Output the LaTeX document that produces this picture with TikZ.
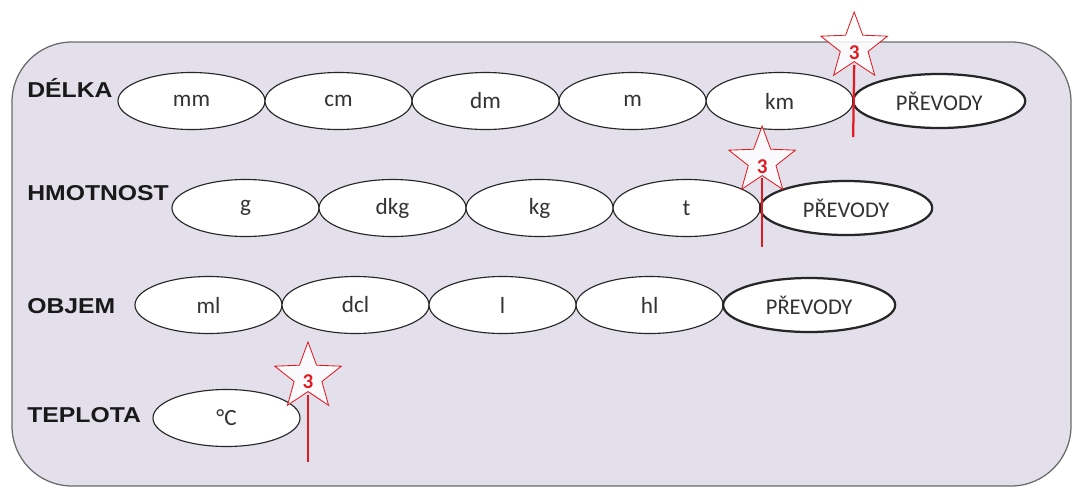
\documentclass[tikz,border=0pt]{standalone}
\usepackage{fontspec}
\usepackage{tikz}
\usetikzlibrary{shapes.geometric,positioning}
\newfontfamily\labelfont[FakeStretch=1.15]{Liberation Sans}
\newfontfamily\unitfont{Carlito}
\definecolor{PanelLilac}{HTML}{E3DFEB}
\definecolor{PanelEdge}{HTML}{6B6B6B}
\definecolor{MarkRed}{HTML}{E11B22}

\tikzset{
  quantity/.style={anchor=west, inner sep=0pt, text=black!90, font=\labelfont\bfseries\fontsize{15.3}{17}\selectfont},
  unitbox/.style={ellipse, draw=black!85, line width=0.8pt, fill=white, inner sep=0pt, outer sep=0pt,
    minimum width=3.675cm, minimum height=1.425cm, text=black!80, font=\unitfont\fontsize{16.5}{18}\selectfont},
  convbox/.style={unitbox, line width=1.6pt, minimum width=4.3cm, minimum height=1.35cm, font=\unitfont\fontsize{16}{18}\selectfont},
  starmark/.style={star, star points=5, star point ratio=2.4, draw=MarkRed, line width=0.6pt,
    fill=white, fill opacity=0.85, minimum size=1.75cm, inner sep=0pt},
  starnum/.style={text=MarkRed, inner sep=0pt, font=\unitfont\bfseries\fontsize{15}{16}\selectfont},
  marker/.style={draw=MarkRed, line width=1.6pt}
}

\begin{document}
\begin{tikzpicture}[x=0.025cm, y=-0.025cm]
  \useasboundingbox (0,0) rectangle (1072,488);
  \draw[PanelEdge, fill=PanelLilac, line width=0.9pt, rounded corners=1.5cm] (12,42) rectangle (1071,486);

  \node[quantity] (delka) at (27,88) {DÉLKA};
  \node[unitbox] (mm) at (191.5,101) {mm};
  \node[unitbox, right=0pt of mm] (cm) {cm};
  \node[unitbox, right=0pt of cm] (dm) {dm};
  \node[unitbox, right=0pt of dm] (m) {m};
  \node[unitbox, right=0pt of m] (km) {km};
  \node[convbox, right=0pt of km] (prevod1) {PŘEVODY};

  \node[quantity] (hmotnost) at (27,193) {HMOTNOST};
  \node[unitbox] (g) at (245.5,208) {g};
  \node[unitbox, right=0pt of g] (dkg) {dkg};
  \node[unitbox, right=0pt of dkg] (kg) {kg};
  \node[unitbox, right=0pt of kg] (t) {t};
  \node[convbox, right=0pt of t] (prevod2) {PŘEVODY};

  \node[quantity] (objem) at (27,306) {OBJEM};
  \node[unitbox] (ml) at (208.5,305) {ml};
  \node[unitbox, right=0pt of ml] (dcl) {dcl};
  \node[unitbox, right=0pt of dcl] (l) {l};
  \node[unitbox, right=0pt of l] (hl) {hl};
  \node[convbox, right=0pt of hl] (prevod3) {PŘEVODY};

  \node[quantity] (teplota) at (27,415) {TEPLOTA};
  \node[unitbox] (celsius) at (226.5,418) {°C};

  \node[starmark] (star1) at ([shift={(1,-54)}]km.east) {};
  \node[starnum] (num1) at ([shift={(0,6)}]star1.center) {3};
  \coordinate (foot1) at ([shift={(0,36)}]km.east);
  \draw[marker] ([shift={(0,18)}]star1.center) -- (foot1);

  \node[starmark] (star2) at ([shift={(2,-47)}]t.east) {};
  \node[starnum] (num2) at ([shift={(0,6)}]star2.center) {3};
  \coordinate (foot2) at ([shift={(2,39)}]t.east);
  \draw[marker] ([shift={(0,17)}]star2.center) -- (foot2);

  \node[starmark] (star4) at ([shift={(8,-41)}]celsius.east) {};
  \node[starnum] (num4) at ([shift={(0,5)}]star4.center) {3};
  \coordinate (foot4) at ([shift={(8,44)}]celsius.east);
  \draw[marker] ([shift={(0,18)}]star4.center) -- (foot4);
\end{tikzpicture}
\end{document}
